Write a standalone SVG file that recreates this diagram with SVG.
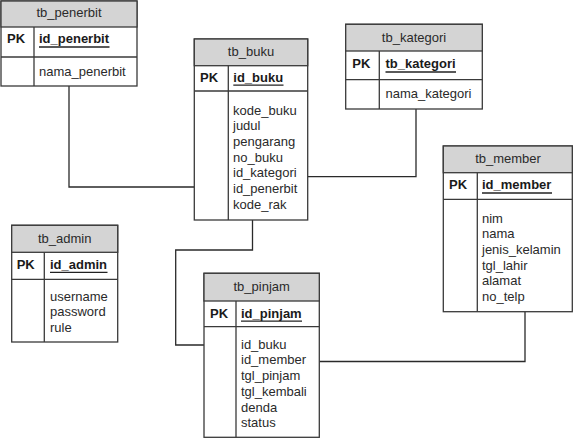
<svg xmlns="http://www.w3.org/2000/svg" width="573" height="439" viewBox="0 0 573 439">
<style>
  .box{fill:#ffffff;stroke:#3a3a3a;stroke-width:1.3}
  .hdr{fill:#d4d4d4;stroke:#3a3a3a;stroke-width:1.3}
  .ln{stroke:#3a3a3a;stroke-width:1.3;fill:none}
  .ul{stroke:#222;stroke-width:1.3}
  .t{font-family:"Liberation Sans",Arial,sans-serif;font-size:13px;fill:#2a2a2a}
  .c{text-anchor:middle}
  .b{font-weight:bold;fill:#1a1a1a}
  .con{stroke:#2a2a2a;stroke-width:1.3;fill:none}
</style>
<rect width="573" height="439" fill="#ffffff"/>

<g id="connectors">
  <path class="con" d="M69,86 V187 H194.3"/>
  <path class="con" d="M307.7,176.7 H416 V109"/>
  <path class="con" d="M252.5,220 V250 H175.7 V345 H204"/>
  <path class="con" d="M319.3,361.5 H525 V311.7"/>
</g>

<g id="tb_penerbit">
  <rect class="box" x="1" y="1" width="136" height="85"/>
  <rect class="hdr" x="1" y="1" width="136" height="26"/>
  <line class="ln" x1="1" y1="57" x2="137" y2="57"/>
  <line class="ln" x1="34" y1="27" x2="34" y2="86"/>
  <text class="t c" x="69" y="17.3">tb_penerbit</text>
  <text class="t b" x="7" y="43.3">PK</text>
  <text class="t b" x="39" y="43.3">id_penerbit</text>
  <line class="ul" x1="39" y1="47" x2="109.5" y2="47"/>
  <text class="t" x="39" y="76">nama_penerbit</text>
</g>

<g id="tb_buku">
  <rect class="box" x="194.3" y="39" width="113.4" height="181"/>
  <rect class="hdr" x="194.3" y="39" width="113.4" height="26.7"/>
  <line class="ln" x1="194.3" y1="91" x2="307.7" y2="91"/>
  <line class="ln" x1="228.3" y1="65.7" x2="228.3" y2="220"/>
  <text class="t c" x="251" y="55.8">tb_buku</text>
  <text class="t b" x="200" y="81.5">PK</text>
  <text class="t b" x="233.3" y="81.5">id_buku</text>
  <line class="ul" x1="233.3" y1="85.2" x2="283.5" y2="85.2"/>
  <text class="t" x="233" y="114.5">kode_buku</text>
  <text class="t" x="233" y="130.2">judul</text>
  <text class="t" x="233" y="145.9">pengarang</text>
  <text class="t" x="233" y="161.6">no_buku</text>
  <text class="t" x="233" y="177.3">id_kategori</text>
  <text class="t" x="233" y="193">id_penerbit</text>
  <text class="t" x="233" y="208.7">kode_rak</text>
</g>

<g id="tb_kategori">
  <rect class="box" x="345.7" y="24.3" width="136.6" height="84.7"/>
  <rect class="hdr" x="345.7" y="24.3" width="136.6" height="26.7"/>
  <line class="ln" x1="345.7" y1="79.7" x2="482.3" y2="79.7"/>
  <line class="ln" x1="379.3" y1="51" x2="379.3" y2="109"/>
  <text class="t c" x="414" y="41.7">tb_kategori</text>
  <text class="t b" x="352.3" y="68.3">PK</text>
  <text class="t b" x="385.5" y="68.3">tb_kategori</text>
  <line class="ul" x1="385.5" y1="72" x2="456" y2="72"/>
  <text class="t" x="385.5" y="98.3">nama_kategori</text>
</g>

<g id="tb_member">
  <rect class="box" x="443.3" y="146" width="129" height="165.7"/>
  <rect class="hdr" x="443.3" y="146" width="129" height="26.7"/>
  <line class="ln" x1="443.3" y1="199.3" x2="572.3" y2="199.3"/>
  <line class="ln" x1="477.3" y1="172.7" x2="477.3" y2="311.7"/>
  <text class="t c" x="508" y="163">tb_member</text>
  <text class="t b" x="449" y="189.3">PK</text>
  <text class="t b" x="482" y="189.3">id_member</text>
  <line class="ul" x1="482" y1="193" x2="552" y2="193"/>
  <text class="t" x="482" y="222.5">nim</text>
  <text class="t" x="482" y="238.2">nama</text>
  <text class="t" x="482" y="253.9">jenis_kelamin</text>
  <text class="t" x="482" y="269.6">tgl_lahir</text>
  <text class="t" x="482" y="285.3">alamat</text>
  <text class="t" x="482" y="301">no_telp</text>
</g>

<g id="tb_admin">
  <rect class="box" x="11.7" y="225.3" width="106" height="116.7"/>
  <rect class="hdr" x="11.7" y="225.3" width="106" height="27"/>
  <line class="ln" x1="11.7" y1="279.3" x2="117.7" y2="279.3"/>
  <line class="ln" x1="44.3" y1="252.3" x2="44.3" y2="342"/>
  <text class="t c" x="64.7" y="242.7">tb_admin</text>
  <text class="t b" x="16.7" y="268.7">PK</text>
  <text class="t b" x="50" y="268.7">id_admin</text>
  <line class="ul" x1="50" y1="272.4" x2="107.5" y2="272.4"/>
  <text class="t" x="50" y="301">username</text>
  <text class="t" x="50" y="316.3">password</text>
  <text class="t" x="50" y="331.6">rule</text>
</g>

<g id="tb_pinjam">
  <rect class="box" x="204" y="273.3" width="115.3" height="164"/>
  <rect class="hdr" x="204" y="273.3" width="115.3" height="27.7"/>
  <line class="ln" x1="204" y1="326.7" x2="319.3" y2="326.7"/>
  <line class="ln" x1="236" y1="301" x2="236" y2="437.3"/>
  <text class="t c" x="261.7" y="290.5">tb_pinjam</text>
  <text class="t b" x="210" y="317.5">PK</text>
  <text class="t b" x="241" y="317.5">id_pinjam</text>
  <line class="ul" x1="241" y1="321.2" x2="302" y2="321.2"/>
  <text class="t" x="241" y="348.7">id_buku</text>
  <text class="t" x="241" y="364.4">id_member</text>
  <text class="t" x="241" y="380.1">tgl_pinjam</text>
  <text class="t" x="241" y="395.8">tgl_kembali</text>
  <text class="t" x="241" y="411.5">denda</text>
  <text class="t" x="241" y="427.2">status</text>
</g>
</svg>
